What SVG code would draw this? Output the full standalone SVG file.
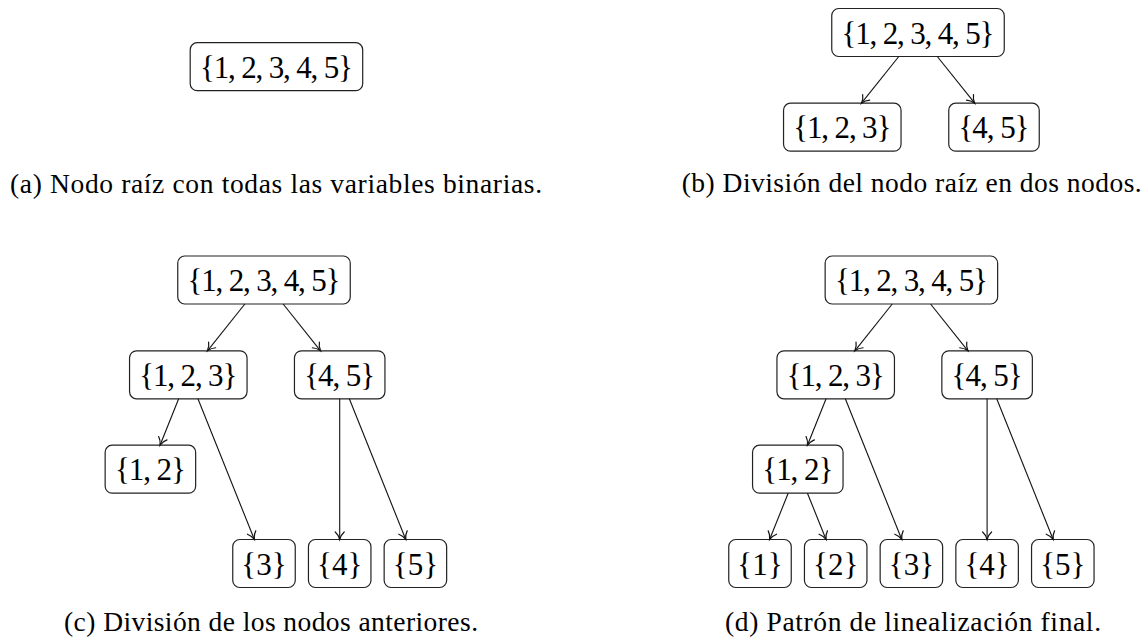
<svg xmlns="http://www.w3.org/2000/svg" width="1147" height="641" viewBox="0 0 1147 641">
<style>
.box{fill:#fff;stroke:#222;stroke-width:1.2}
.lbl{font-family:"Liberation Serif","Times New Roman",serif;font-size:31px;fill:#000;text-anchor:middle}
.cap{font-family:"Liberation Serif","Times New Roman",serif;font-size:27.5px;fill:#000;text-anchor:middle}
.edge{stroke:#111;stroke-width:1.1;fill:none;marker-end:url(#arr)}
</style>
<defs>
<marker id="arr" markerUnits="userSpaceOnUse" viewBox="-9 -6 10 12" markerWidth="10" markerHeight="12" refX="0" refY="0" orient="auto" overflow="visible">
<path d="M-7.5,-4.5 C-5.5,-2.2 -2.2,-0.6 0,0 C-2.2,0.6 -5.5,2.2 -7.5,4.5" fill="none" stroke="#111" stroke-width="1.2" stroke-linecap="round"/>
</marker>
</defs>
<rect width="1147" height="641" fill="#fff"/>

<!-- Panel (a) -->
<g id="a-root"><rect class="box" x="190.2" y="42.7" width="172.5" height="48" rx="7"/><text class="lbl" x="276.4" y="77.7" textLength="153" lengthAdjust="spacing">{1, 2, 3, 4, 5}</text></g>

<!-- Panel (b) -->
<g id="b-root"><rect class="box" x="831.75" y="8.5" width="172.5" height="48" rx="7"/><text class="lbl" x="918" y="43.5" textLength="153" lengthAdjust="spacing">{1, 2, 3, 4, 5}</text></g>
<g id="b-123"><rect class="box" x="783.55" y="103.2" width="117.5" height="48" rx="7"/><text class="lbl" x="842.3" y="138.2" textLength="98" lengthAdjust="spacing">{1, 2, 3}</text></g>
<g id="b-45"><rect class="box" x="948.75" y="103.2" width="90.5" height="48" rx="7"/><text class="lbl" x="994" y="138.2" textLength="71" lengthAdjust="spacing">{4, 5}</text></g>

<!-- Panel (c) -->
<g id="c-root"><rect class="box" x="177.75" y="256" width="172.5" height="48" rx="7"/><text class="lbl" x="264" y="291" textLength="153" lengthAdjust="spacing">{1, 2, 3, 4, 5}</text></g>
<g id="c-123"><rect class="box" x="129.55" y="350.8" width="117.5" height="48" rx="7"/><text class="lbl" x="188.3" y="385.8" textLength="98" lengthAdjust="spacing">{1, 2, 3}</text></g>
<g id="c-45"><rect class="box" x="294.45" y="350.8" width="90.5" height="48" rx="7"/><text class="lbl" x="339.7" y="385.8" textLength="71" lengthAdjust="spacing">{4, 5}</text></g>
<g id="c-12"><rect class="box" x="105.15" y="445.2" width="90.5" height="48" rx="7"/><text class="lbl" x="150.4" y="480.2" textLength="71" lengthAdjust="spacing">{1, 2}</text></g>
<g id="c-3"><rect class="box" x="232.75" y="539.5" width="62.5" height="48" rx="7"/><text class="lbl" x="264" y="574.5">{3}</text></g>
<g id="c-4"><rect class="box" x="308.45" y="539.5" width="62.5" height="48" rx="7"/><text class="lbl" x="339.7" y="574.5">{4}</text></g>
<g id="c-5"><rect class="box" x="384.15" y="539.5" width="62.5" height="48" rx="7"/><text class="lbl" x="415.4" y="574.5">{5}</text></g>

<!-- Panel (d) -->
<g id="d-root"><rect class="box" x="825.15" y="256" width="172.5" height="48" rx="7"/><text class="lbl" x="911.4" y="291" textLength="153" lengthAdjust="spacing">{1, 2, 3, 4, 5}</text></g>
<g id="d-123"><rect class="box" x="776.95" y="350.8" width="117.5" height="48" rx="7"/><text class="lbl" x="835.7" y="385.8" textLength="98" lengthAdjust="spacing">{1, 2, 3}</text></g>
<g id="d-45"><rect class="box" x="941.85" y="350.8" width="90.5" height="48" rx="7"/><text class="lbl" x="987.1" y="385.8" textLength="71" lengthAdjust="spacing">{4, 5}</text></g>
<g id="d-12"><rect class="box" x="752.55" y="445.2" width="90.5" height="48" rx="7"/><text class="lbl" x="797.8" y="480.2" textLength="71" lengthAdjust="spacing">{1, 2}</text></g>
<g id="d-1"><rect class="box" x="728.75" y="539.5" width="62.5" height="48" rx="7"/><text class="lbl" x="760" y="574.5">{1}</text></g>
<g id="d-2"><rect class="box" x="804.45" y="539.5" width="62.5" height="48" rx="7"/><text class="lbl" x="835.7" y="574.5">{2}</text></g>
<g id="d-3"><rect class="box" x="880.15" y="539.5" width="62.5" height="48" rx="7"/><text class="lbl" x="911.4" y="574.5">{3}</text></g>
<g id="d-4"><rect class="box" x="955.85" y="539.5" width="62.5" height="48" rx="7"/><text class="lbl" x="987.1" y="574.5">{4}</text></g>
<g id="d-5"><rect class="box" x="1031.55" y="539.5" width="62.5" height="48" rx="7"/><text class="lbl" x="1062.8" y="574.5">{5}</text></g>

<g id="connectors">
<line class="edge" x1="898.8" y1="56.5" x2="861.5" y2="103.2"/>
<line class="edge" x1="937.3" y1="56.5" x2="974.7" y2="103.2"/>

<line class="edge" x1="244.84" y1="304" x2="207.46" y2="350.8"/>
<line class="edge" x1="283.16" y1="304" x2="320.54" y2="350.8"/>
<line class="edge" x1="178.66" y1="398.8" x2="160.04" y2="445.2"/>
<line class="edge" x1="197.93" y1="398.8" x2="254.37" y2="539.5"/>
<line class="edge" x1="339.7" y1="398.8" x2="339.7" y2="539.5"/>
<line class="edge" x1="349.33" y1="398.8" x2="405.77" y2="539.5"/>

<line class="edge" x1="892.24" y1="304" x2="854.86" y2="350.8"/>
<line class="edge" x1="930.56" y1="304" x2="967.94" y2="350.8"/>
<line class="edge" x1="826.06" y1="398.8" x2="807.44" y2="445.2"/>
<line class="edge" x1="845.33" y1="398.8" x2="901.77" y2="539.5"/>
<line class="edge" x1="987.1" y1="398.8" x2="987.1" y2="539.5"/>
<line class="edge" x1="996.73" y1="398.8" x2="1053.17" y2="539.5"/>
<line class="edge" x1="788.18" y1="493.2" x2="769.62" y2="539.5"/>
<line class="edge" x1="807.45" y1="493.2" x2="826.05" y2="539.5"/>
</g>

<text class="cap" x="276" y="192.5" textLength="532" lengthAdjust="spacing">(a) Nodo raíz con todas las variables binarias.</text>
<text class="cap" x="911.7" y="192" textLength="460" lengthAdjust="spacing">(b) División del nodo raíz en dos nodos.</text>
<text class="cap" x="271" y="631" textLength="414" lengthAdjust="spacing">(c) División de los nodos anteriores.</text>
<text class="cap" x="913" y="631" textLength="376" lengthAdjust="spacing">(d) Patrón de linealización final.</text>
</svg>
